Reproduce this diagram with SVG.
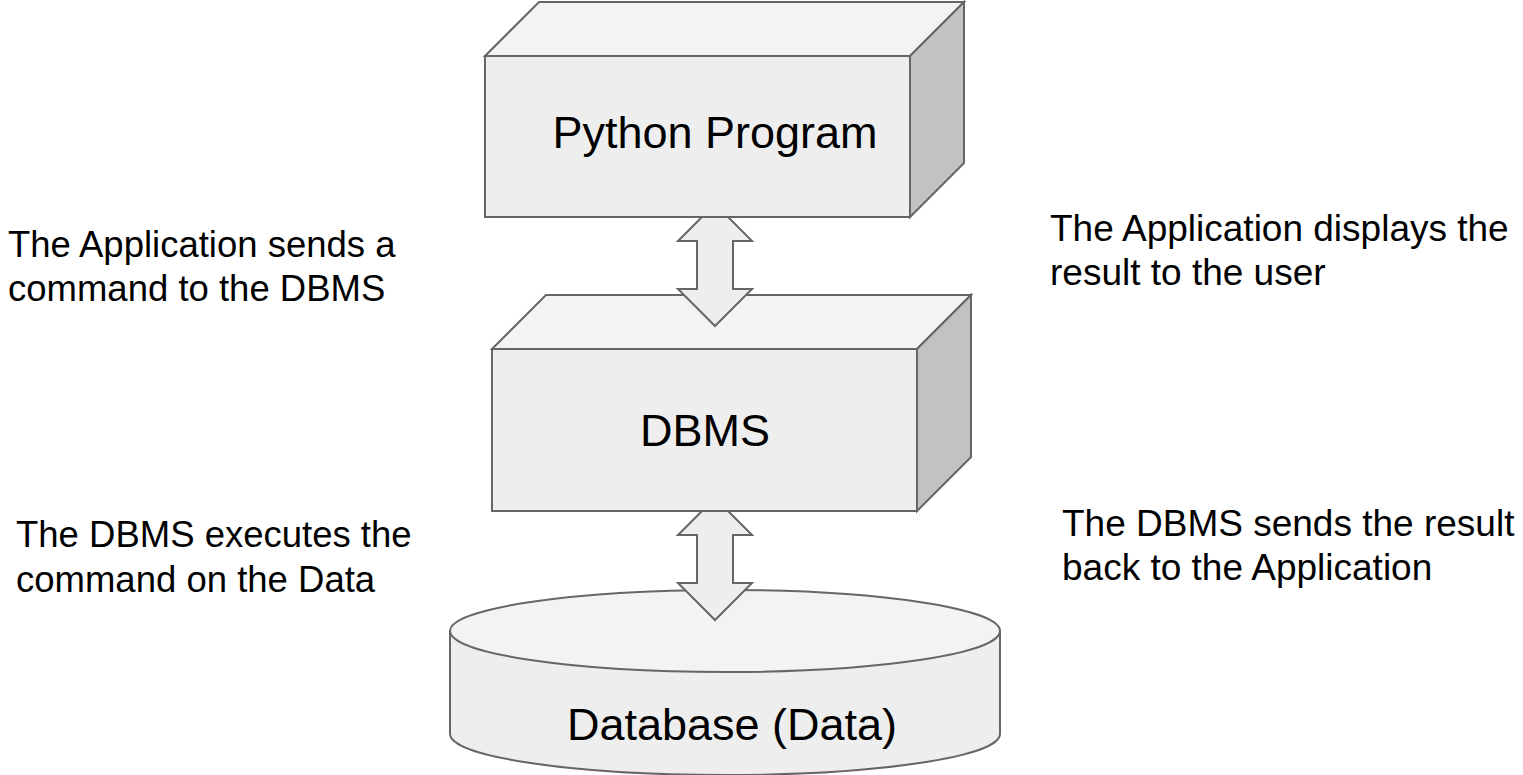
<svg xmlns="http://www.w3.org/2000/svg" width="1523" height="775" viewBox="0 0 1523 775">
<style>
  .edge{stroke:#666666;stroke-width:2;stroke-linejoin:miter}
  .front{fill:#eeeeee}
  .top{fill:#f3f3f3}
  .side{fill:#c2c2c2}
  .arrow{fill:#eeeeee;stroke:#666666;stroke-width:2}
  .big{font-family:"Liberation Sans",Arial,sans-serif;font-size:45px;fill:#000000;text-anchor:middle}
  .note{font-family:"Liberation Sans",Arial,sans-serif;font-size:36.5px;fill:#000000}
  .noteR{font-family:"Liberation Sans",Arial,sans-serif;font-size:37px;fill:#000000}
</style>
<rect width="1523" height="775" fill="#ffffff"/>

<g id="database">
  <path class="front edge" d="M450 631 L450 734 A275 41 0 0 0 1000 734 L1000 631 Z"/>
  <ellipse class="top edge" cx="725" cy="631" rx="275" ry="41"/>
  <text class="big" x="732" y="740">Database (Data)</text>
</g>

<g id="connectors">
  <path id="arrow-dbms-db" class="arrow" d="M715 498 L752 535 L733 535 L733 583 L752 583 L715 620 L678 583 L697 583 L697 535 L678 535 Z"/>
</g>

<g id="dbms">
  <polygon class="top edge" points="492,349 546,295 971,295 917,349"/>
  <polygon class="side edge" points="917,349 971,295 971,457 917,511"/>
  <rect class="front edge" x="492" y="349" width="425" height="162"/>
  <text class="big" x="705" y="446">DBMS</text>
</g>

<g id="connectors2">
  <path id="arrow-python-dbms" class="arrow" d="M715 204 L752 241 L733 241 L733 289 L752 289 L715 326 L678 289 L697 289 L697 241 L678 241 Z"/>
</g>

<g id="python">
  <polygon class="top edge" points="485,56 539,2 964,2 910,56"/>
  <polygon class="side edge" points="910,56 964,2 964,163 910,217"/>
  <rect class="front edge" x="485" y="56" width="425" height="161"/>
  <text class="big" x="715" y="148">Python Program</text>
</g>

<g id="label-sends">
  <text class="note" x="8" y="257">The Application sends a</text>
  <text class="note" x="8" y="301">command to the DBMS</text>
</g>
<g id="label-displays">
  <text class="noteR" x="1050" y="241">The Application displays the</text>
  <text class="noteR" x="1050" y="285">result to the user</text>
</g>
<g id="label-executes">
  <text class="note" x="16" y="547">The DBMS executes the</text>
  <text class="note" x="16" y="592">command on the Data</text>
</g>
<g id="label-returns">
  <text class="noteR" x="1062" y="536">The DBMS sends the result</text>
  <text class="noteR" x="1062" y="580">back to the Application</text>
</g>
</svg>
